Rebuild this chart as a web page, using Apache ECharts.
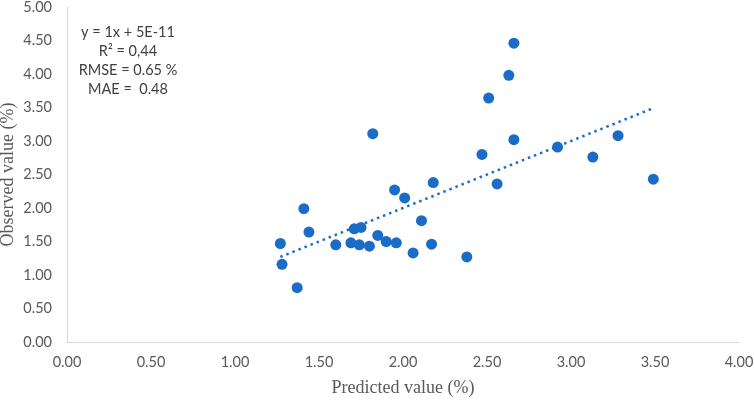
<!DOCTYPE html>
<html>
<head>
<meta charset="utf-8">
<script src="https://cdn.jsdelivr.net/npm/echarts@6/dist/echarts.min.js"></script>
<style>html,body{margin:0;padding:0;background:#fff;}#c{width:754px;height:400px;}</style>
</head>
<body>
<div id="c"></div>
<script>
const predicted = [1.27,1.28,1.37,1.41,1.44,1.60,1.69,1.71,1.74,1.75,1.80,1.82,1.85,1.90,1.96,1.95,2.01,2.06,2.11,2.17,2.18,2.38,2.47,2.51,2.56,2.63,2.66,2.66,2.92,3.13,3.28,3.49];
const observed  = [1.47,1.16,0.81,1.99,1.64,1.45,1.48,1.69,1.45,1.71,1.43,3.11,1.59,1.50,1.48,2.27,2.15,1.33,1.81,1.46,2.38,1.27,2.80,3.64,2.36,3.98,4.46,3.02,2.91,2.76,3.08,2.43];
const slope = 1, intercept = 5e-11;
const annotation = ['y = 1x + 5E-11', 'R\u00b2 = 0,44', 'RMSE = 0.65 %', 'MAE =  0.48'];
const xTitle = 'Predicted value (%)';
const yTitle = 'Observed value (%)';

const pts = predicted.map((p, i) => [p, observed[i]]);
const xmin = Math.min(...predicted), xmax = Math.max(...predicted);
const trend = [[xmin, slope * xmin + intercept], [xmax, slope * xmax + intercept]];
const blue = '#1a6cc7';
const labelFont = 'Lato, "Noto Sans", sans-serif';

const chart = echarts.init(document.getElementById('c'));
chart.setOption({
  animation: false,
  grid: {left: 67, right: 15, top: 7, bottom: 58, containLabel: false, outerBoundsMode: 'none'},
  xAxis: {
    type: 'value', min: 0, max: 4, interval: 0.5,
    name: xTitle, nameLocation: 'middle', nameGap: 37, nameMoveOverlap: false,
    nameTextStyle: {fontFamily: '"Liberation Serif", serif', fontSize: 18, color: '#595959'},
    axisLine: {show: true, onZero: false, lineStyle: {color: '#d9d9d9', width: 1}},
    axisTick: {show: false}, splitLine: {show: false},
    axisLabel: {formatter: v => v.toFixed(2), fontFamily: labelFont, fontSize: 14.5, color: '#595959', margin: 13}
  },
  yAxis: {
    type: 'value', min: 0, max: 5, interval: 0.5,
    name: yTitle, nameLocation: 'middle', nameGap: 50, nameMoveOverlap: false,
    nameTextStyle: {fontFamily: '"Liberation Serif", serif', fontSize: 18, color: '#595959'},
    axisLine: {show: true, lineStyle: {color: '#d9d9d9', width: 1}},
    axisTick: {show: false}, splitLine: {show: false},
    axisLabel: {formatter: v => v.toFixed(2), fontFamily: labelFont, fontSize: 14.5, color: '#595959', margin: 15}
  },
  series: [
    {type: 'line', data: trend, symbol: 'none', lineStyle: {color: blue, width: 2.5, type: [2.5, 4]}, z: 1, silent: true},
    {type: 'scatter', data: pts, symbolSize: 11, itemStyle: {color: blue, opacity: 1}, z: 2}
  ],
  graphic: annotation.map((t, i) => ({
    type: 'text', x: 128, y: 32 + i * 19,
    style: {text: t, fontFamily: labelFont, fontSize: 14.5, fill: '#404040', align: 'center', verticalAlign: 'middle'}
  }))
});
</script>
</body>
</html>
